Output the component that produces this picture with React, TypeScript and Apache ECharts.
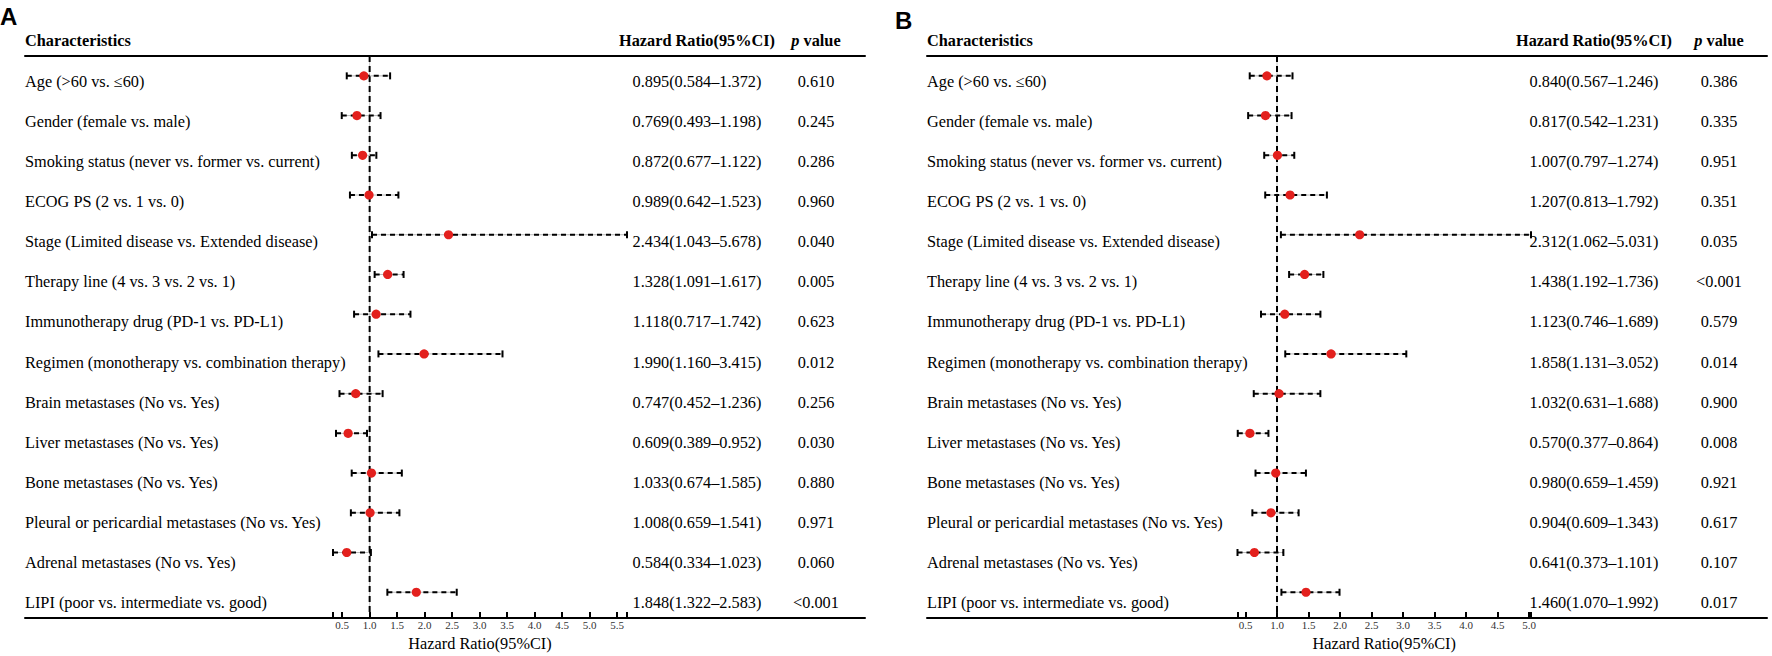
import { useEffect, useRef } from "react";
import * as echarts from "echarts";

const characteristics = [
  "Age (>60 vs. ≤60)",
  "Gender (female vs. male)",
  "Smoking status (never vs. former vs. current)",
  "ECOG PS (2 vs. 1 vs. 0)",
  "Stage (Limited disease vs. Extended disease)",
  "Therapy line (4 vs. 3 vs. 2 vs. 1)",
  "Immunotherapy drug (PD-1 vs. PD-L1)",
  "Regimen (monotherapy vs. combination therapy)",
  "Brain metastases (No vs. Yes)",
  "Liver metastases (No vs. Yes)",
  "Bone metastases (No vs. Yes)",
  "Pleural or pericardial metastases (No vs. Yes)",
  "Adrenal metastases (No vs. Yes)",
  "LIPI (poor vs. intermediate vs. good)",
];

const hrA = [0.895, 0.769, 0.872, 0.989, 2.434, 1.328, 1.118, 1.99, 0.747, 0.609, 1.033, 1.008, 0.584, 1.848];
const lowerA = [0.584, 0.493, 0.677, 0.642, 1.043, 1.091, 0.717, 1.16, 0.452, 0.389, 0.674, 0.659, 0.334, 1.322];
const upperA = [1.372, 1.198, 1.122, 1.523, 5.678, 1.617, 1.742, 3.415, 1.236, 0.952, 1.585, 1.541, 1.023, 2.583];
const pValuesA = ["0.610", "0.245", "0.286", "0.960", "0.040", "0.005", "0.623", "0.012", "0.256", "0.030", "0.880", "0.971", "0.060", "<0.001"];

const hrB = [0.84, 0.817, 1.007, 1.207, 2.312, 1.438, 1.123, 1.858, 1.032, 0.57, 0.98, 0.904, 0.641, 1.46];
const lowerB = [0.567, 0.542, 0.797, 0.813, 1.062, 1.192, 0.746, 1.131, 0.631, 0.377, 0.659, 0.609, 0.373, 1.07];
const upperB = [1.246, 1.231, 1.274, 1.792, 5.031, 1.736, 1.689, 3.052, 1.688, 0.864, 1.459, 1.343, 1.101, 1.992];
const pValuesB = ["0.386", "0.335", "0.951", "0.351", "0.035", "<0.001", "0.579", "0.014", "0.900", "0.008", "0.921", "0.617", "0.107", "0.017"];

const tickLabelsA = [0.5, 1.0, 1.5, 2.0, 2.5, 3.0, 3.5, 4.0, 4.5, 5.0, 5.5];
const tickLabelsB = [0.5, 1.0, 1.5, 2.0, 2.5, 3.0, 3.5, 4.0, 4.5, 5.0];

const referenceHR = 1;

const SERIF = "'Times New Roman', 'Liberation Serif', serif";
const SANS = "Arial, 'Liberation Sans', sans-serif";
const FS = 16.3;
const TOP = 56;
const HEIGHT = 562;
const TEXT_DY = 5;

const panels = [
  {
    letter: "A", letterX: 0, letterY: 16.5,
    x0: 25, x1: 865, ax0: 333, ax1: 627, hrX: 697, pX: 816,
    hr: hrA, lo: lowerA, hi: upperA, p: pValuesA, ticks: tickLabelsA,
  },
  {
    letter: "B", letterX: 895, letterY: 20,
    x0: 927, x1: 1767, ax0: 1237.5, ax1: 1531, hrX: 1594, pX: 1719,
    hr: hrB, lo: lowerB, hi: upperB, p: pValuesB, ticks: tickLabelsB,
  },
];

function buildOption() {
  const grid: any[] = [];
  const xAxis: any[] = [];
  const yAxis: any[] = [];
  const series: any[] = [];
  const graphic: any[] = [];
  const n = characteristics.length;

  panels.forEach((pn, k) => {
    const gTable = grid.length;
    grid.push({ left: pn.x0, width: pn.x1 - pn.x0, top: TOP, height: HEIGHT, containLabel: false });
    const gForest = grid.length;
    grid.push({ left: pn.ax0, width: pn.ax1 - pn.ax0, top: TOP, height: HEIGHT, containLabel: false });

    const axMin = Math.min(...pn.lo);
    const axMax = Math.max(...pn.hi);

    // table axes (top and bottom rules)
    const xtB = xAxis.length;
    xAxis.push({
      type: "value", gridIndex: gTable, min: pn.x0, max: pn.x1, position: "bottom",
      axisLine: { show: true, onZero: false, lineStyle: { color: "#000", width: 2 } },
      axisTick: { show: false }, axisLabel: { show: false }, splitLine: { show: false },
    });
    xAxis.push({
      type: "value", gridIndex: gTable, min: pn.x0, max: pn.x1, position: "top",
      axisLine: { show: true, onZero: false, lineStyle: { color: "#000", width: 2 } },
      axisTick: { show: false }, axisLabel: { show: false }, splitLine: { show: false },
    });
    const xf = xAxis.length;
    xAxis.push({
      type: "value", gridIndex: gForest, min: axMin, max: axMax, position: "bottom",
      axisLine: { show: false, onZero: false },
      axisTick: {
        show: true, length: 5, inside: false,
        lineStyle: { color: "#000", width: 2 },
        customValues: [axMin, ...pn.ticks, axMax],
      },
      axisLabel: {
        show: true, margin: 7, fontSize: 11, fontFamily: SERIF, color: "#333",
        customValues: pn.ticks,
        formatter: (v: number) => v.toFixed(1),
      },
      splitLine: { show: false },
      name: "Hazard Ratio(95%CI)",
      nameLocation: "middle",
      nameGap: 18,
      nameTextStyle: { fontSize: FS, fontFamily: SERIF, color: "#000" },
    });

    const ytI = yAxis.length;
    yAxis.push({ type: "value", gridIndex: gTable, min: -0.5, max: n - 0.5, inverse: true, show: false });
    const yfI = yAxis.length;
    yAxis.push({ type: "value", gridIndex: gForest, min: -0.5, max: n - 0.5, inverse: true, show: false });

    // reference line at HR = 1
    series.push({
      type: "custom",
      xAxisIndex: xf, yAxisIndex: yfI,
      z: 1, clip: false, silent: true,
      data: [[referenceHR, 0]],
      encode: { x: 0, y: 1 },
      renderItem: (params: any, api: any) => {
        const cs = params.coordSys;
        const x = api.coord([api.value(0), 0])[0];
        return {
          type: "group",
          children: [
            { type: "line", shape: { x1: x, y1: cs.y, x2: x, y2: cs.y + cs.height }, style: { stroke: "#c8c8c8", lineWidth: 1 } },
            { type: "line", shape: { x1: x, y1: cs.y, x2: x, y2: cs.y + cs.height }, style: { stroke: "#000", lineWidth: 2, lineDash: [6, 4] } },
          ],
        };
      },
    });

    // forest marks
    series.push({
      type: "custom",
      xAxisIndex: xf, yAxisIndex: yfI,
      z: 3, clip: false, silent: true,
      data: pn.hr.map((h, i) => [pn.lo[i], pn.hi[i], h, i]),
      encode: { x: [0, 1, 2], y: 3 },
      renderItem: (params: any, api: any) => {
        const i = api.value(3);
        const a = api.coord([api.value(0), i]);
        const b = api.coord([api.value(1), i]);
        const c = api.coord([api.value(2), i]);
        const y = a[1];
        return {
          type: "group",
          children: [
            { type: "line", shape: { x1: a[0], y1: y, x2: b[0], y2: y }, style: { stroke: "#b8b8b8", lineWidth: 1 } },
            { type: "line", shape: { x1: a[0], y1: y, x2: b[0], y2: y }, style: { stroke: "#000", lineWidth: 2, lineDash: [5, 4] } },
            { type: "line", shape: { x1: a[0], y1: y - 3.5, x2: a[0], y2: y + 3.5 }, style: { stroke: "#000", lineWidth: 2 } },
            { type: "line", shape: { x1: b[0], y1: y - 3.5, x2: b[0], y2: y + 3.5 }, style: { stroke: "#000", lineWidth: 2 } },
            { type: "circle", shape: { cx: c[0], cy: y, r: 4.6 }, style: { fill: "#e3201d" } },
          ],
        };
      },
    });

    // table text
    series.push({
      type: "custom",
      xAxisIndex: xtB, yAxisIndex: ytI,
      z: 2, clip: false, silent: true,
      data: characteristics.map((c, i) => [i, i]),
      encode: { x: 0, y: 1 },
      renderItem: (params: any, api: any) => {
        const i = api.value(1);
        const y = api.coord([pn.x0, i])[1] + TEXT_DY;
        const hrText = `${pn.hr[i].toFixed(3)}(${pn.lo[i].toFixed(3)}–${pn.hi[i].toFixed(3)})`;
        const base = { fontSize: FS, fontFamily: SERIF, fill: "#000", verticalAlign: "middle", textVerticalAlign: "middle" };
        return {
          type: "group",
          children: [
            { type: "text", style: { ...base, text: characteristics[i], x: pn.x0, y, align: "left", textAlign: "left" } },
            { type: "text", style: { ...base, text: hrText, x: pn.hrX, y, align: "center", textAlign: "center" } },
            { type: "text", style: { ...base, text: pn.p[i], x: pn.pX, y, align: "center", textAlign: "center" } },
          ],
        };
      },
    });

    // headers & panel letters
    graphic.push({
      type: "text", x: pn.letterX, y: pn.letterY,
      style: { text: pn.letter, fontSize: 24, fontWeight: "bold", fontFamily: SANS, fill: "#000", align: "left", verticalAlign: "middle" },
    });
    graphic.push({
      type: "text", x: pn.x0, y: 40,
      style: { text: "Characteristics", fontSize: FS, fontWeight: "bold", fontFamily: SERIF, fill: "#000", align: "left", verticalAlign: "middle" },
    });
    graphic.push({
      type: "text", x: pn.hrX, y: 40,
      style: { text: "Hazard Ratio(95%CI)", fontSize: FS, fontWeight: "bold", fontFamily: SERIF, fill: "#000", align: "center", verticalAlign: "middle" },
    });
    graphic.push({
      type: "text", x: pn.pX, y: 40,
      style: {
        text: "{i|p}{b| value}",
        fontSize: FS, fontWeight: "bold", fontFamily: SERIF, fill: "#000", align: "center", verticalAlign: "middle",
        rich: {
          i: { fontStyle: "italic", fontWeight: "bold", fontSize: FS, fontFamily: SERIF, fill: "#000" },
          b: { fontWeight: "bold", fontSize: FS, fontFamily: SERIF, fill: "#000" },
        },
      },
    });
  });

  return {
    animation: false,
    backgroundColor: "#fff",
    grid, xAxis, yAxis, series, graphic,
  };
}

export default function App() {
  const ref = useRef<HTMLDivElement>(null);
  useEffect(() => {
    if (!ref.current) return;
    const chart = echarts.init(ref.current, undefined, { renderer: "svg" });
    chart.setOption(buildOption() as any);
    return () => chart.dispose();
  }, []);
  return (
    <div
      ref={ref}
      style={{ position: "fixed", left: 0, top: 0, width: 1772, height: 656, background: "#fff" }}
    />
  );
}
